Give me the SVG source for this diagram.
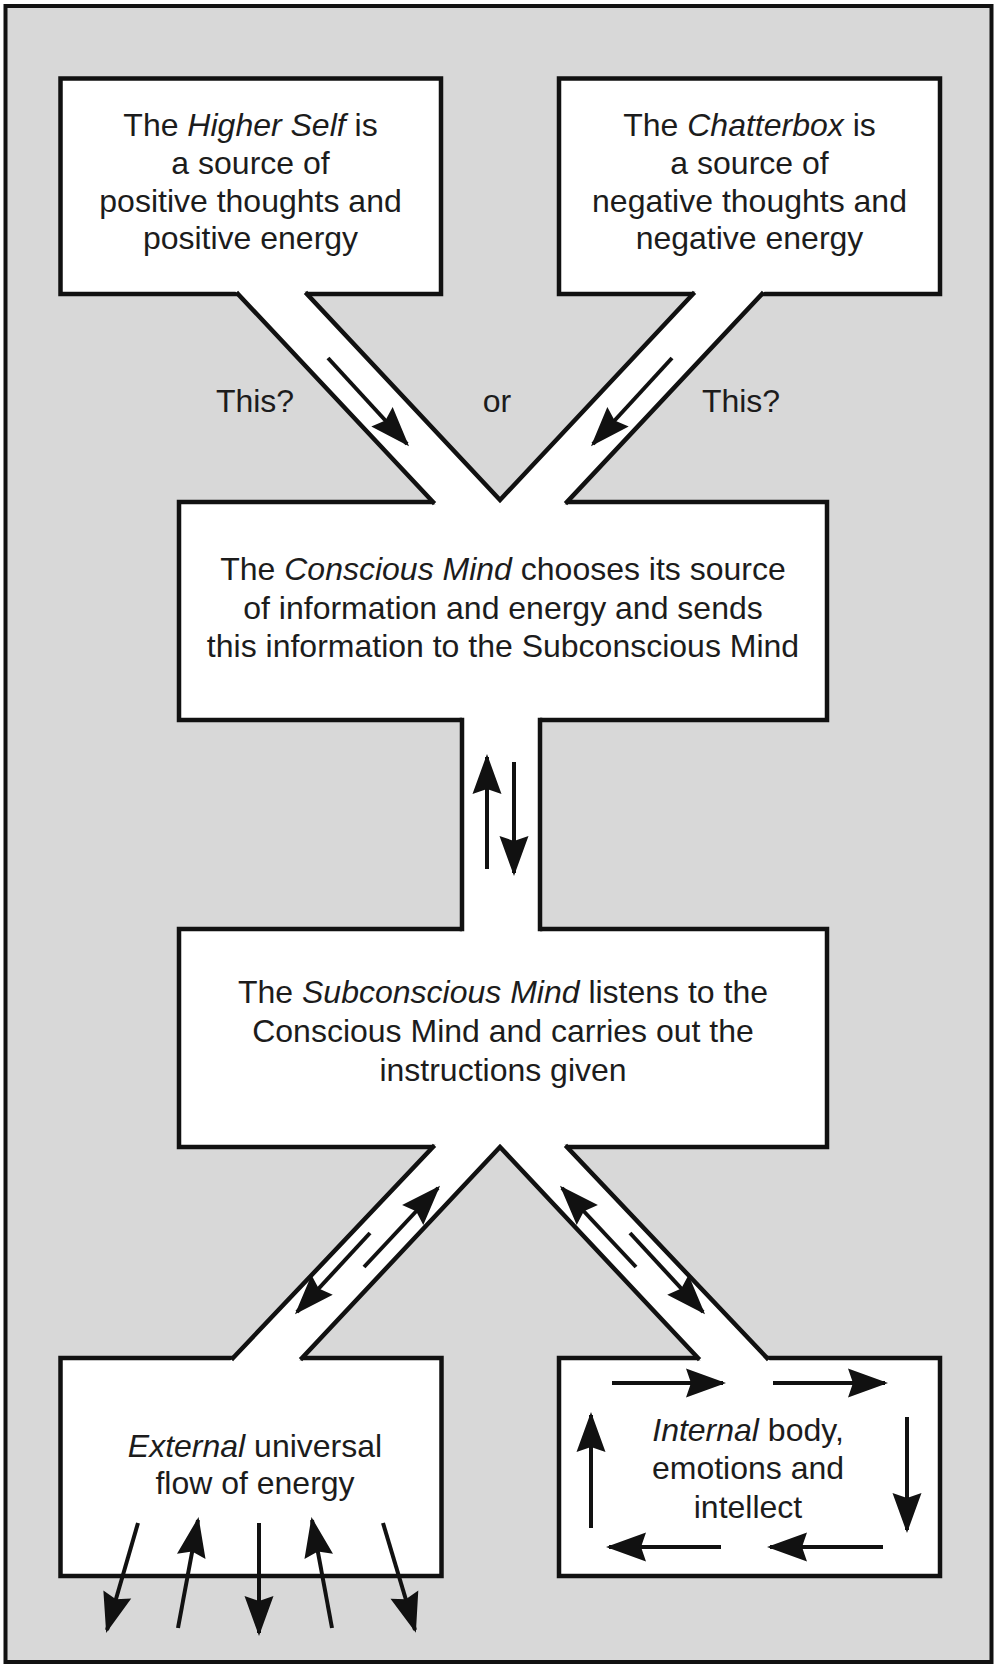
<svg xmlns="http://www.w3.org/2000/svg" width="996" height="1667" viewBox="0 0 996 1667">
<style>
.box{fill:#fff;stroke:#111;stroke-width:4.5}
.wall{fill:none;stroke:#111;stroke-width:4.5;stroke-linecap:square}
.gap{fill:#fff;stroke:none}
.arr{fill:none;stroke:#111;stroke-width:4;marker-end:url(#ah)}
text{font-family:"Liberation Sans",Arial,sans-serif;font-size:32px;fill:#1c1c1c;text-anchor:middle}
.i{font-style:italic}
</style>
<defs>
<marker id="ah" markerUnits="userSpaceOnUse" markerWidth="48" markerHeight="36" viewBox="-2 -18 48 36" refX="37" refY="0" orient="auto">
<path d="M40,0 L0,-14.5 L5,0 L0,14.5 Z" fill="#111"/>
</marker>
</defs>
<rect x="0" y="0" width="996" height="1667" fill="#fff"/>
<rect x="5.5" y="6" width="986" height="1656" fill="#d8d8d8" stroke="#111" stroke-width="4"/>

<g id="higher-self">
<rect class="box" x="60.5" y="78.5" width="380.5" height="215.5"/>
<text x="250.5" y="136">The <tspan class="i">Higher Self</tspan> is</text>
<text x="250.5" y="174">a source of</text>
<text x="250.5" y="212">positive thoughts and</text>
<text x="250.5" y="249">positive energy</text>
</g>

<g id="chatterbox">
<rect class="box" x="559" y="78.5" width="381" height="215.5"/>
<text x="749.5" y="136">The <tspan class="i">Chatterbox</tspan> is</text>
<text x="749.5" y="174">a source of</text>
<text x="749.5" y="212">negative thoughts and</text>
<text x="749.5" y="249">negative energy</text>
</g>

<g id="conscious-mind">
<rect class="box" x="179" y="502" width="648" height="218"/>
<text x="503" y="580">The <tspan class="i">Conscious Mind</tspan> chooses its source</text>
<text x="503" y="619">of information and energy and sends</text>
<text x="503" y="657">this information to the Subconscious Mind</text>
</g>

<g id="subconscious-mind">
<rect class="box" x="179" y="929" width="648" height="218"/>
<text x="503" y="1003">The <tspan class="i">Subconscious Mind</tspan> listens to the</text>
<text x="503" y="1042">Conscious Mind and carries out the</text>
<text x="503" y="1081">instructions given</text>
</g>

<g id="external">
<rect class="box" x="60.5" y="1358" width="381" height="218"/>
<text x="255" y="1457"><tspan class="i">External</tspan> universal</text>
<text x="255" y="1494">flow of energy</text>
</g>

<g id="internal">
<rect class="box" x="559" y="1358" width="381" height="218"/>
<text x="748" y="1441"><tspan class="i">Internal</tspan> body,</text>
<text x="748" y="1479">emotions and</text>
<text x="748" y="1518">intellect</text>
</g>

<g id="labels">
<text x="255" y="412">This?</text>
<text x="497" y="412">or</text>
<text x="741" y="412">This?</text>
</g>

<g id="connectors">
<polygon class="gap" points="234.25,290 303.25,290 500,500 696.75,290 765.75,290 563.25,506 436.75,506"/>
<path class="wall" d="M238,294 L433,502 M307,294 L500,500 L693,294 M762,294 L567,502"/>
<rect class="gap" x="462" y="715" width="78" height="219"/>
<path class="wall" d="M462,720 L462,929 M540,720 L540,929"/>
<polygon class="gap" points="436.8,1143 563.2,1143 770.8,1362 701.8,1362 500,1147 298.2,1362 229.2,1362"/>
<path class="wall" d="M433,1147 L233,1358 M302,1358 L500,1147 L698,1358 M567,1147 L767,1358"/>

<line class="arr" x1="328" y1="358" x2="407" y2="444"/>
<line class="arr" x1="672" y1="358" x2="593" y2="444"/>
<line class="arr" x1="487" y1="869" x2="487" y2="757"/>
<line class="arr" x1="514" y1="762" x2="514" y2="873"/>
<line class="arr" x1="370" y1="1233" x2="297" y2="1312"/>
<line class="arr" x1="364" y1="1267" x2="438" y2="1188"/>
<line class="arr" x1="636" y1="1267" x2="562" y2="1188"/>
<line class="arr" x1="630" y1="1233" x2="703" y2="1312"/>
<line class="arr" x1="138" y1="1523" x2="107" y2="1630"/>
<line class="arr" x1="178" y1="1628" x2="198" y2="1520"/>
<line class="arr" x1="259" y1="1523" x2="259" y2="1633"/>
<line class="arr" x1="332" y1="1628" x2="312" y2="1520"/>
<line class="arr" x1="383" y1="1523" x2="415" y2="1630"/>
<line class="arr" x1="612" y1="1383" x2="723" y2="1383"/>
<line class="arr" x1="773" y1="1383" x2="885" y2="1383"/>
<line class="arr" x1="907" y1="1417" x2="907" y2="1530"/>
<line class="arr" x1="883" y1="1547" x2="770" y2="1547"/>
<line class="arr" x1="721" y1="1547" x2="609" y2="1547"/>
<line class="arr" x1="591" y1="1528" x2="591" y2="1415"/>
</g>
</svg>
